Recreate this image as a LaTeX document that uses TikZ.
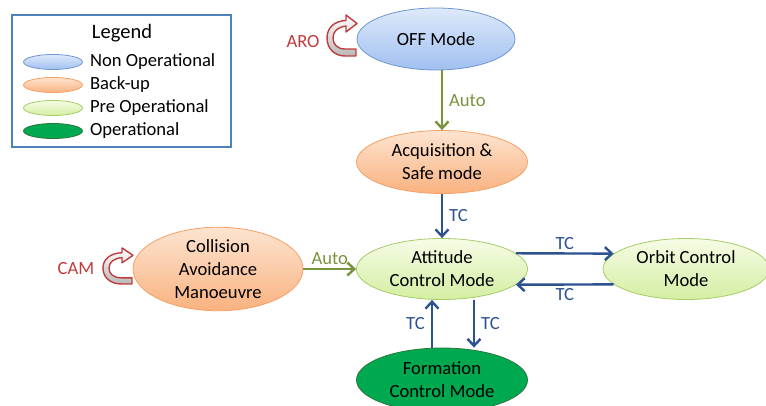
\documentclass[tikz,border=0pt]{standalone}
\usepackage{fontspec}
\setmainfont{Carlito}
\usetikzlibrary{shapes.geometric,arrows.meta,positioning}
\definecolor{offedge}{RGB}{110,150,210}
\definecolor{offtop}{RGB}{222,233,251}
\definecolor{offbottom}{RGB}{160,192,240}
\definecolor{backedge}{RGB}{245,160,100}
\definecolor{backtop}{RGB}{253,228,208}
\definecolor{backbottom}{RGB}{249,178,128}
\definecolor{preedge}{RGB}{165,205,105}
\definecolor{pretop}{RGB}{246,252,230}
\definecolor{prebottom}{RGB}{212,238,162}
\definecolor{opfill}{RGB}{0,168,80}
\definecolor{opedge}{RGB}{40,120,60}
\definecolor{legedge}{RGB}{79,129,189}
\definecolor{autogreen}{RGB}{119,147,60}
\definecolor{tcblue}{RGB}{44,82,145}
\definecolor{turnred}{RGB}{192,60,60}
\definecolor{turnfill}{RGB}{185,185,185}
\newcommand{\modefont}{\fontsize{18.6}{23}\selectfont}
\tikzset{
  mode/.style={ellipse, line width=0.8pt, minimum width=171pt, minimum height=61pt,
    inner sep=0pt, align=center, font=\modefont},
  mode-off/.style={mode, draw=offedge, top color=offtop, bottom color=offbottom},
  mode-back/.style={mode, draw=backedge, top color=backtop, bottom color=backbottom},
  mode-pre/.style={mode, draw=preedge, top color=pretop, bottom color=prebottom},
  mode-op/.style={mode, draw=opedge, fill=opfill},
  leg-mark/.style={minimum width=59pt, minimum height=15pt},
  leg-text/.style={font=\modefont, inner sep=2pt},
  auto-arrow/.style={draw=autogreen, line width=2.4pt, -{Straight Barb[length=7pt,width=13pt]}},
  tc-arrow/.style={draw=tcblue, line width=2.4pt, -{Straight Barb[length=7pt,width=13pt]}},
  auto-label/.style={font=\modefont, text=autogreen, inner sep=6pt},
  tc-label/.style={font=\modefont, text=tcblue, inner sep=6pt},
  turn-label/.style={font=\modefont, text=turnred},
  uturn/.pic={
    \draw[draw=turnred, line width=1.4pt, line join=round, top color=white, bottom color=turnfill]
      (29,35) -- (18,35) .. controls (10,35) and (6,30) .. (6,24)
      .. controls (6,17) and (11,13) .. (19,12) -- (19,18) -- (30,9.5) -- (19,1) -- (19,6.5)
      .. controls (7,7) and (0,14) .. (0,24) .. controls (0,35) and (8,42) .. (18,42)
      -- (29,42) -- cycle;
  }
}
\begin{document}
\begin{tikzpicture}[x=1pt, y=-1pt]
  \useasboundingbox (0,0) rectangle (766,406);
  % legend
  \node[draw=legedge, line width=1.6pt, minimum width=219pt, minimum height=132pt] (legend) at (121.5,81) {};
  \node[font=\fontsize{20.5}{24}\selectfont] (leg-title) at (122,33) {Legend};
  \node[mode-off, leg-mark] (leg-nonop) at (53,62) {};
  \node[mode-back, leg-mark] (leg-back) at (53,85) {};
  \node[mode-pre, leg-mark] (leg-pre) at (53,108) {};
  \node[mode-op, leg-mark] (leg-op) at (53,131) {};
  \node[leg-text, right=5pt of leg-nonop] {Non Operational};
  \node[leg-text, right=5pt of leg-back] {Back-up};
  \node[leg-text, right=5pt of leg-pre] {Pre Operational};
  \node[leg-text, right=5pt of leg-op] {Operational};
  % modes
  \node[mode-off, minimum width=158pt, minimum height=62pt] (off) at (436,39) {OFF Mode};
  \node[mode-back, minimum height=63pt] (acq) at (442,162) {Acquisition \&\\Safe mode};
  \node[mode-pre] (att) at (442,269) {Attitude\\Control Mode};
  \node[mode-pre, minimum width=166pt] (orbit) at (686,269) {Orbit Control\\Mode};
  \node[mode-op, minimum height=64pt] (form) at (442,380) {Formation\\Control Mode};
  \node[mode-back, minimum width=170pt, minimum height=63pt] (cam) at (218,269) {Collision\\Avoidance\\Manoeuvre};
  % self transitions
  \node[turn-label] (aro) at (303,42) {ARO};
  \pic at (327,14) {uturn};
  \node[turn-label] (cam-label) at (76,269) {CAM};
  \pic[yscale=0.88] at (103,247) {uturn};
  % transitions
  \draw[auto-arrow] (acq.north |- off.south) -- node[right, auto-label] {Auto} (acq.north);
  \draw[tc-arrow] (acq.south) -- node[right, tc-label] {TC} (att.north);
  \draw[auto-arrow] (cam.east) -- node[above, auto-label, inner sep=3pt] {Auto} (att.west);
  \draw[tc-arrow] (att.12) -- node[above, tc-label, inner sep=3pt] {TC} (orbit.168);
  \draw[tc-arrow] (orbit.192) -- node[below, tc-label, inner sep=3pt] {TC} (att.348);
  \draw[tc-arrow] ([xshift=-10pt]form.north) -- node[left, tc-label] {TC} ([xshift=-10pt]att.south);
  \draw[tc-arrow] ([xshift=32pt]att.south) -- node[right, tc-label] {TC} ([xshift=32pt]form.north);
\end{tikzpicture}
\end{document}
